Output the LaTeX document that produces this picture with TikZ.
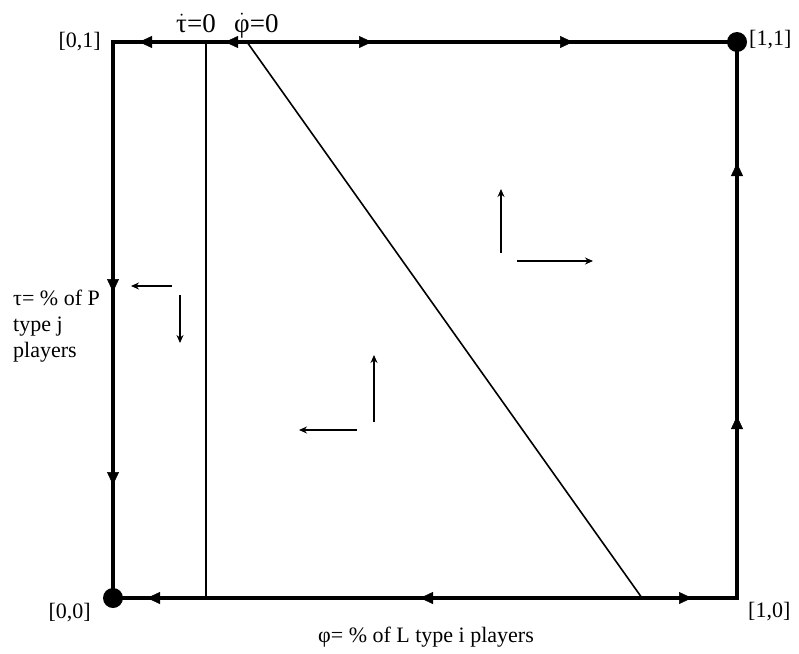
\documentclass[tikz,border=0pt]{standalone}
\usepackage{fontspec}
\setmainfont{Liberation Serif}
\usepackage{tikz}
\usetikzlibrary{arrows.meta,positioning}
\newcommand{\flowtip}[4]{%
  \draw[-{Triangle[length=13pt,width=12pt]},line width=0.5pt] (#1,#2)--++(#3,#4);}
\newcommand{\rateof}[1]{$\dot{\mbox{#1}}$}

\begin{document}
\begin{tikzpicture}[x=1pt,y=-1pt,
  edge/.style={line width=3.6pt,line join=miter},
  nullcline/.style={line width=1.6pt},
  phase/.style={-{Stealth[length=8pt,width=7pt]},line width=1.2pt},
  lbl/.style={font=\fontsize{22}{26}\selectfont,inner sep=0pt},
  dotlbl/.style={font=\fontsize{27}{30}\selectfont,inner sep=0pt}]
  \useasboundingbox (0,0) rectangle (799,653);
  % corners of the unit square
  \coordinate (O) at (113,598);
  \coordinate (A) at (113,42);
  \coordinate (B) at (737,42);
  \coordinate (C) at (737,598);
  \draw[edge] (A)--(B)--(C)--(O)--cycle;
  % flow along the edges
  \flowtip{153}{42}{-14}{0}
  \flowtip{239}{42}{-14}{0}
  \flowtip{358}{42}{14}{0}
  \flowtip{559}{42}{14}{0}
  \flowtip{113}{278}{0}{14}
  \flowtip{113}{471}{0}{14}
  \flowtip{737}{177}{0}{-14}
  \flowtip{737}{430}{0}{-14}
  \flowtip{161}{598}{-14}{0}
  \flowtip{434}{598}{-14}{0}
  \flowtip{678}{598}{14}{0}
  \fill (O) circle[radius=10pt];
  \fill (B) circle[radius=10pt];
  % nullclines
  \coordinate (tauTop) at (206,42);
  \coordinate (tauBot) at (206,598);
  \coordinate (phiTop) at (247,42);
  \coordinate (phiBot) at (642,598);
  \draw[nullcline] (tauTop)--(tauBot);
  \draw[nullcline] (phiTop)--(phiBot);
  % direction field
  \coordinate (w1) at (172,286); \coordinate (w1l) at (131,286);
  \coordinate (w1d) at (180,295); \coordinate (w1e) at (180,343);
  \draw[phase] (w1)--(w1l);
  \draw[phase] (w1d)--(w1e);
  \coordinate (w2) at (374,422); \coordinate (w2u) at (374,355);
  \coordinate (w2h) at (357,430); \coordinate (w2l) at (299,430);
  \draw[phase] (w2)--(w2u);
  \draw[phase] (w2h)--(w2l);
  \coordinate (w3) at (501,253); \coordinate (w3u) at (501,189);
  \coordinate (w3h) at (517,261); \coordinate (w3r) at (593,261);
  \draw[phase] (w3)--(w3u);
  \draw[phase] (w3h)--(w3r);
  % labels
  \node[lbl,anchor=east] (cA) at (101,42) {[0,1]};
  \node[lbl,anchor=east] (cO) at (91,613) {[0,0]};
  \node[lbl,anchor=west] (cC) at (748,612) {[1,0]};
  \node[lbl,anchor=west] (cB) at (749,40) {[1,1]};
  \node[dotlbl,anchor=base west] (tauDot) at (176,32) {\rateof{τ}=0};
  \node[dotlbl,anchor=base west] (phiDot) at (234,32) {\rateof{φ}=0};
  \node[lbl,anchor=north west,align=left] (yLab) at (13,290) {τ= \% of P\\type j\\players};
  \node[lbl,anchor=base] (xLab) at (426,642) {φ= \% of L type i players};
\end{tikzpicture}
\end{document}
